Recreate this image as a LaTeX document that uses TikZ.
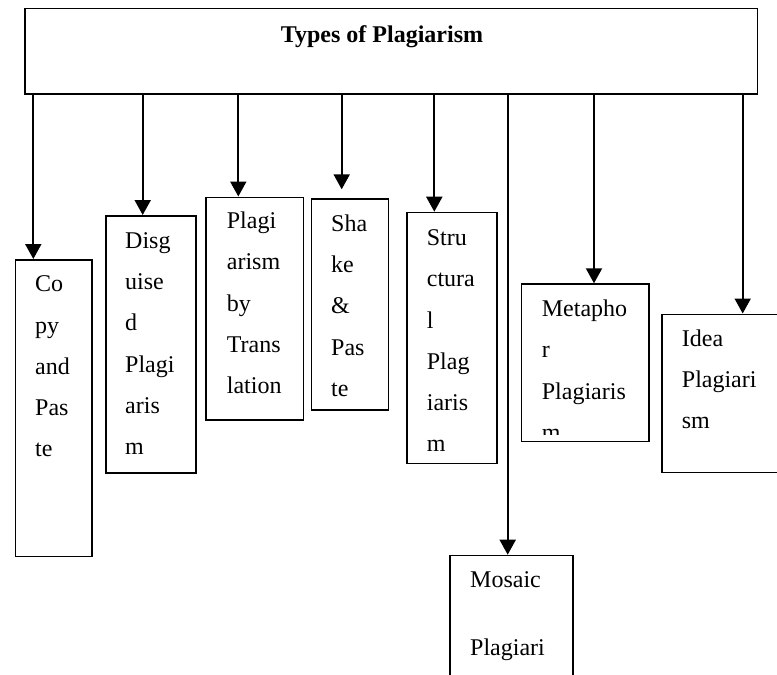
\documentclass[tikz,border=0pt]{standalone}
\usepackage{fontspec}
\setmainfont{Liberation Serif}
\usetikzlibrary{arrows.meta}
\tikzset{
  boxnode/.style={draw, line width=1.6pt, anchor=north west, inner sep=0pt},
  txt/.style={anchor=base west, inner sep=0pt, font=\fontsize{24}{28}\selectfont, align=left},
  arr/.style={line width=2pt, -{Triangle[length=15pt, width=16pt]}}
}
\newcommand\stk[2]{\vtop{\baselineskip=#1pt\relax #2}}
\begin{document}
\begin{tikzpicture}[x=1pt, y=-1pt]
\useasboundingbox (0,0) rectangle (777,675);
\clip (0,0) rectangle (777,675);
% title
\node[draw, line width=1.2pt, anchor=north west, inner sep=0pt, minimum width=732.4pt, minimum height=84.5pt] (title) at (24.3,8) {};
\draw[line width=2pt] (title.south west) -- (title.south east);
\node[txt, font=\fontsize{24}{28}\selectfont\bfseries] (ttext) at (280.7,42.7) {Types of Plagiarism};
% boxes
\node[boxnode, minimum width=76.3pt, minimum height=296.7pt] (copy) at (14.7,259) {};
\node[boxnode, minimum width=90pt, minimum height=257pt] (disg) at (105,215) {};
\node[boxnode, minimum width=97.7pt, minimum height=222.5pt] (trans) at (205,196.5) {};
\node[boxnode, minimum width=77pt, minimum height=210.7pt] (shake) at (310.7,198.3) {};
\node[boxnode, minimum width=90pt, minimum height=251pt] (struct) at (406,211.7) {};
\node[boxnode, minimum width=122.7pt, minimum height=160pt] (mosaic) at (449.3,554.7) {};
\node[boxnode, minimum width=127.6pt, minimum height=157.4pt] (meta) at (520.7,283.3) {};
\node[boxnode, minimum width=115.5pt, minimum height=158.2pt] (idea) at (661,313.5) {};
% texts
\node[txt] (tcopy) at (35,291.7) {\stk{41.3}{\hbox{Co}\hbox{py}\hbox{and}\hbox{Pas}\hbox{te}}};
\node[txt] (tdisg) at (125,248.3) {\stk{41.3}{\hbox{Disg}\hbox{uise}\hbox{d}\hbox{Plagi}\hbox{aris}\hbox{m}}};
\node[txt] (ttrans) at (226.7,228.3) {\stk{41.4}{\hbox{Plagi}\hbox{arism}\hbox{by}\hbox{Trans}\hbox{lation}}};
\node[txt] (tshake) at (331,231.7) {\stk{41.1}{\hbox{Sha}\hbox{ke}\hbox{\&}\hbox{Pas}\hbox{te}}};
\node[txt] (tstruct) at (426.7,245.7) {\stk{41.2}{\hbox{Stru}\hbox{ctura}\hbox{l}\hbox{Plag}\hbox{iaris}\hbox{m}}};
\node[txt] (tmosaic) at (470,587.3) {\stk{67.7}{\hbox{Mosaic}\hbox{Plagiari}}};
\begin{scope}
\clip (meta.north west) rectangle ([yshift=7.7pt]meta.south east);
\node[txt] (tmeta) at (541.7,316.7) {\stk{41.2}{\hbox{Metapho}\hbox{r}\hbox{Plagiaris}\hbox{m}}};
\end{scope}
\node[txt] (tidea) at (681.7,346.7) {\stk{41.1}{\hbox{Idea}\hbox{Plagiari}\hbox{sm}}};
% connectors
\draw[arr] ([xshift=18.6pt]copy.north west |- title.south) -- ([xshift=18.6pt]copy.north west);
\draw[arr] ([xshift=37.7pt]disg.north west |- title.south) -- ([xshift=37.7pt]disg.north west);
\draw[arr] ([xshift=33.3pt]trans.north west |- title.south) -- ([xshift=33.3pt]trans.north west);
\draw[arr] ([xshift=31pt]shake.north west |- title.south) -- ([xshift=31pt, yshift=9pt]shake.north west);
\draw[arr] ([xshift=28.3pt]struct.north west |- title.south) -- ([xshift=28.3pt]struct.north west);
\draw[arr] ([xshift=58.4pt]mosaic.north west |- title.south) -- ([xshift=58.4pt]mosaic.north west);
\draw[arr] ([xshift=73.3pt]meta.north west |- title.south) -- ([xshift=73.3pt]meta.north west);
\draw[arr] ([xshift=81.7pt]idea.north west |- title.south) -- ([xshift=81.7pt]idea.north west);
\end{tikzpicture}
\end{document}
